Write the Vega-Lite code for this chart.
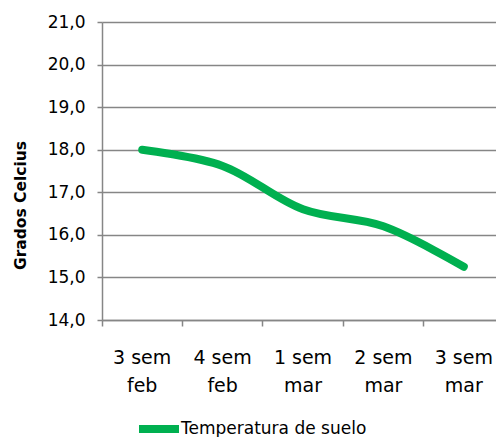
{
  "$schema": "https://vega.github.io/schema/vega-lite/v6.json",
  "autosize": "none",
  "width": 394,
  "height": 298,
  "padding": {"left": 102, "top": 22, "right": 0, "bottom": 117},
  "background": "white",
  "config": {
    "view": {"stroke": null},
    "font": "DejaVu Sans"
  },
  "data": {
    "values": [
      {"semana": "3 sem\nfeb", "orden": 1, "temp": 18.0, "serie": "Temperatura de suelo"},
      {"semana": "4 sem\nfeb", "orden": 2, "temp": 17.62, "serie": "Temperatura de suelo"},
      {"semana": "1 sem\nmar", "orden": 3, "temp": 16.6, "serie": "Temperatura de suelo"},
      {"semana": "2 sem\nmar", "orden": 4, "temp": 16.2, "serie": "Temperatura de suelo"},
      {"semana": "3 sem\nmar", "orden": 5, "temp": 15.25, "serie": "Temperatura de suelo"}
    ]
  },
  "mark": {"type": "line", "strokeWidth": 8, "strokeCap": "round", "interpolate": "catmull-rom"},
  "encoding": {
    "x": {
      "field": "semana",
      "type": "ordinal",
      "sort": {"field": "orden"},
      "bandPosition": 0.5,
      "scale": {"type": "band", "paddingInner": 0, "paddingOuter": 0, "range": [0, 402]},
      "axis": {
        "title": null,
        "labelAngle": 0,
        "labelExpr": "split(datum.label, '\\n')",
        "labelFontSize": 19,
        "labelColor": "#000000",
        "labelLineHeight": 28,
        "labelPadding": 37,
        "labelBaseline": "alphabetic",
        "bandPosition": 0,
        "tickSize": 6,
        "tickColor": "#868686",
        "tickWidth": 1.5,
        "domainColor": "#868686",
        "domainWidth": 1.5,
        "grid": false
      }
    },
    "y": {
      "field": "temp",
      "type": "quantitative",
      "scale": {"domain": [14, 21], "nice": false, "zero": false},
      "axis": {
        "title": "Grados Celcius",
        "titleFont": "DejaVu Sans",
        "titleFontSize": 15.5,
        "titleFontWeight": "bold",
        "titleColor": "#000000",
        "titleAngle": -90,
        "titleAlign": "center",
        "titleBaseline": "middle",
        "titleX": -82,
        "titleY": 183,
        "values": [14, 15, 16, 17, 18, 19, 20, 21],
        "labelExpr": "replace(format(datum.value, '.1f'), '.', ',')",
        "labelFontSize": 17,
        "labelColor": "#000000",
        "labelPadding": 12,
        "tickSize": 5,
        "tickColor": "#868686",
        "tickWidth": 1.5,
        "domainColor": "#868686",
        "domainWidth": 1.5,
        "grid": true,
        "gridColor": "#868686",
        "gridWidth": 1.5
      }
    },
    "color": {
      "field": "serie",
      "type": "nominal",
      "scale": {"range": ["#00B050"]},
      "legend": {
        "title": null,
        "orient": "none",
        "legendX": 33,
        "legendY": 383,
        "symbolType": "stroke",
        "symbolStrokeWidth": 8,
        "symbolSize": 1600,
        "labelFontSize": 17,
        "labelLimit": 0,
        "labelColor": "#000000",
        "labelOffset": -2
      }
    }
  }
}
